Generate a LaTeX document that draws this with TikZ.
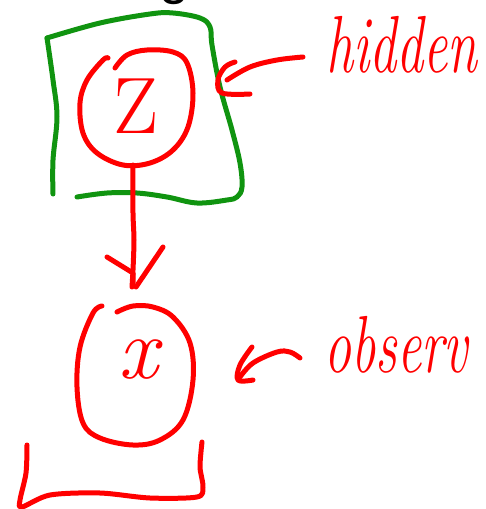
\documentclass[tikz,border=0pt]{standalone}
\usepackage{fontspec}
\setsansfont{Liberation Sans}
\definecolor{inkred}{RGB}{255,0,0}
\definecolor{inkgreen}{RGB}{16,148,16}
\begin{document}
\begin{tikzpicture}[x=0.5pt,y=-0.5pt,
  stroke/.style={line width=2.5pt,line cap=round,line join=round},
  redink/.style={stroke,draw=inkred},
  greenink/.style={stroke,draw=inkgreen},
  handtext/.style={text=inkred,inner sep=0pt,font=\fontsize{27}{30}\selectfont\itshape}
]
\useasboundingbox (0,0) rectangle (486,509);

% title glyph cut off at the top edge
\node[anchor=base,inner sep=0pt,font=\sffamily\fontsize{27}{30}\selectfont] (title) at (175,-7) {g};

% plate around the latent variable
\draw[greenink] plot[smooth,tension=0.6] coordinates
  {(47,38) (100,23) (150,14) (173,13) (200,18) (210,27) (212,45) (220,87) (232,130) (240,163) (242,187) (237,197) (227,200) (197,203) (167,197) (137,193) (107,193) (77,197)};
\draw[greenink] plot[smooth,tension=0.6] coordinates
  {(47,38) (53,80) (57,117) (53,160) (53,194)};

% latent node z
\draw[redink] plot[smooth,tension=0.6] coordinates
  {(108,58) (103,60) (87,80) (80,103) (83,133) (97,153) (123,165) (150,163) (173,150) (188,127) (193,93) (187,63) (173,52) (147,50) (127,55) (115,68)};
\coordinate (zbot) at (133,165);
\node[handtext,font=\fontsize{40}{40}\selectfont,text=inkred] (zlab) at (136,106) {Z};

% edge z -> x
\coordinate (xtop) at (132,287);
\draw[redink] plot[smooth,tension=0.5] coordinates
  {(zbot) (133,213) (134,240) (133,270) (xtop)};
\draw[redink] (107,257) -- (133,273) -- (133,283);
\draw[redink] (163,247) -- (136,287);

% observed node x
\draw[redink] plot[smooth,tension=0.6] coordinates
  {(102,306) (93,313) (80,347) (77,387) (83,423) (100,438) (133,445) (160,440) (183,420) (193,380) (190,343) (173,317) (153,307) (133,306) (117,312)};
\node[handtext,font=\fontsize{44}{44}\selectfont\itshape] (xlab) at (138,360) {x};

% plate bracket below x
\draw[redink] plot[smooth,tension=0.5] coordinates
  {(27,445) (26,473) (20,500) (22,507) (50,495) (100,493) (150,498) (197,497) (203,487) (200,467) (202,442)};

% annotation: hidden
\node[handtext,yscale=1.5] (hidden) at (402,45) {hidden};
\coordinate (hidtip) at (227,80);
\draw[redink] plot[smooth,tension=0.6] coordinates
  {(303,57) (277,60) (250,67) (hidtip)};
\draw[redink] plot[smooth,tension=0.6] coordinates
  {(235,62) (225,67) (218,80) (222,93) (250,94)};

% annotation: observed
\node[handtext,yscale=1.5] (observ) at (396,345) {observ};
\coordinate (obstip) at (240,377);
\draw[redink] plot[smooth,tension=0.6] coordinates
  {(300,358) (290,352) (277,352) (253,363) (obstip)};
\draw[redink] plot[smooth,tension=0.6] coordinates
  {(252,347) (240,365) (238,380) (253,380)};
\end{tikzpicture}
\end{document}
